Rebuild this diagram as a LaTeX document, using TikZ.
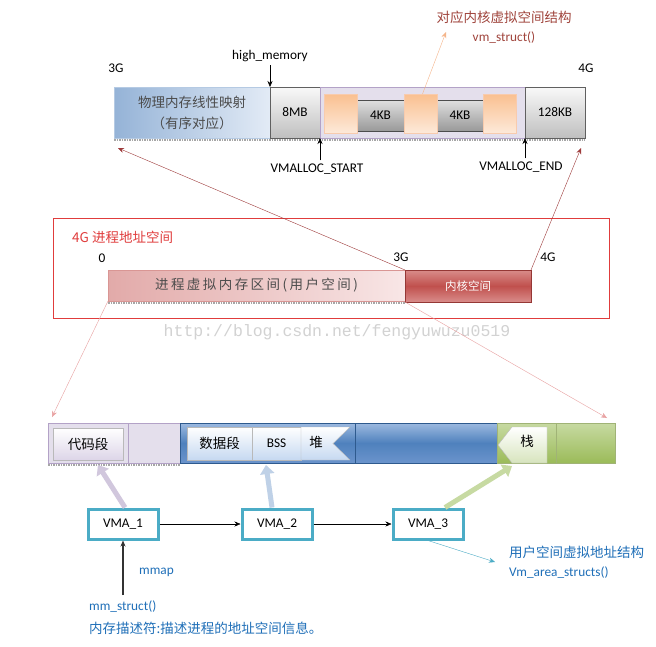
\documentclass[tikz,border=0pt]{standalone}
\usepackage{fontspec}
\setmainfont{Carlito}
\newfontfamily\cjk{Noto Sans CJK SC}
\newfontfamily\cjkwide{Noto Sans CJK SC}[LetterSpace=18]
\newfontfamily\webmono{Liberation Mono}
\usetikzlibrary{arrows.meta}
\definecolor{vmateal}{HTML}{4BACC6}
\definecolor{txtblue}{HTML}{1F6FB8}
\definecolor{brownred}{HTML}{A0443C}
\definecolor{framered}{HTML}{E03C3C}
\definecolor{darkred}{HTML}{9E3A3A}
\definecolor{pinkline}{HTML}{E8A0A0}
\definecolor{peachline}{HTML}{F5B58A}
\definecolor{peachdark}{HTML}{FAC090}
\definecolor{peachlite}{HTML}{FDE9D9}
\definecolor{physdark}{HTML}{95B3D7}
\definecolor{physlite}{HTML}{E3EBF6}
\definecolor{lilac}{HTML}{E4DFEC}
\definecolor{lilacline}{HTML}{B3A2C7}
\definecolor{userdark}{HTML}{E2AAA9}
\definecolor{userlite}{HTML}{F8E6E6}
\definecolor{userline}{HTML}{D99694}
\definecolor{kerntop}{HTML}{D98C8A}
\definecolor{kernmid}{HTML}{C0504D}
\definecolor{kernline}{HTML}{953735}
\definecolor{bartop}{HTML}{9DBAE0}
\definecolor{barmid}{HTML}{4F81BD}
\definecolor{barbot}{HTML}{6B94CC}
\definecolor{barline}{HTML}{2E5A8E}
\definecolor{greentop}{HTML}{C7DAA2}
\definecolor{greenbot}{HTML}{9BBB59}
\definecolor{greenline}{HTML}{77933C}
\definecolor{codebot}{HTML}{DDD5E8}
\definecolor{databot}{HTML}{C6D9F1}
\definecolor{stackbot}{HTML}{D7E4BD}
\tikzset{
  seg/.style={anchor=north west, inner sep=0pt, outer sep=0pt},
  lbl/.style={font=\fontsize{13.3}{16}\selectfont},
  cn/.style={font=\fontsize{13.5}{21}\selectfont\cjk},
  graybox/.style={seg, lbl, draw=gray!75!black, top color=gray!5, bottom color=gray!50},
  kbbox/.style={seg, lbl, draw=gray!60!black, top color=gray!25, bottom color=gray!80, minimum height=31},
  peach/.style={seg, draw=peachline!70, top color=peachdark, bottom color=peachlite, minimum width=33, minimum height=39},
  litebox/.style={seg, draw=gray!55, top color=white, bottom color=#1},
  bluebar/.style={seg, draw=barline, top color=bartop, bottom color=barbot, middle color=barmid, minimum height=40},
  greenbar/.style={seg, draw=greenline!70, top color=greentop, bottom color=greenbot, minimum width=59, minimum height=40},
  lilacbar/.style={seg, draw=lilacline, fill=lilac, minimum height=40},
  vma/.style={draw=vmateal, line width=3, fill=white, minimum width=70, minimum height=30, inner sep=0pt, lbl},
  bluetxt/.style={anchor=west, inner sep=0pt, text=txtblue},
  dots/.style={gray!70, densely dotted, line width=1.5},
  fat/.style={line width=5, draw=#1, -{Triangle[length=9pt,width=14pt]}},
  arr/.style={-{Stealth[length=6pt,width=5pt]}}
}
\begin{document}
\begin{tikzpicture}[x=1pt,y=-1pt]
\useasboundingbox[fill=white] (0,0) rectangle (656,646);

% kernel part, top bar
\node[seg, cn, align=center, text=black!70, draw=physdark!70, left color=physdark, right color=physlite, minimum width=156, minimum height=51] (phys) at (114,87) {物理内存线性映射\\（有序对应）};
\node[graybox, minimum width=50, minimum height=51] (mb8) at (270,87) {8MB};
\node[seg, draw=lilacline, fill=lilac, minimum width=205, minimum height=51] (vmarea) at (320,87) {};
\node[graybox, minimum width=60, minimum height=51] (kb128) at (525,87) {128KB};
\node[kbbox, minimum width=47] (kba) at (357,100) {4KB};
\node[kbbox, minimum width=46] (kbb) at (437,100) {4KB};
\node[peach] (pa) at (324,94) {};
\node[peach] (pb) at (404,94) {};
\node[peach] (pc) at (483,94) {};
\draw[dots] (114,140) -- (585,140);

\node[lbl] (g3top) at (116,68) {3G};
\node[lbl] (g4top) at (586,68) {4G};
\node[lbl] (himem) at (270,56) {high\_memory};
\node[lbl] (vstart) at (317,169) {VMALLOC\_START};
\node[lbl] (vend) at (521,167) {VMALLOC\_END};
\node[cn, text=brownred] (vmtitle) at (504,17) {对应内核虚拟空间结构};
\node[lbl, text=brownred] (vmstruct) at (504,38) {vm\_struct()};
\coordinate (vmtip) at (446,32);

\draw[arr] (himem.south) -- (mb8.north west);
\draw[arr] (vstart.north -| vmarea.south west) -- (vmarea.south west);
\draw[arr] (vend.north -| kb128.south west) -- (kb128.south west);
\draw[peachline, arr] ([xshift=2pt]pb.north) -- (vmtip);

% 4G process address space
\node[seg, draw=framered, minimum width=556, minimum height=100] (frame) at (53,218) {};
\node[anchor=west, inner sep=0pt, text=framered, font=\fontsize{13.5}{16}\selectfont\cjk] (frametitle) at (72,237) {4G 进程地址空间};
\node[lbl] (g0) at (102,258) {0};
\node[lbl] (g3mid) at (401,257) {3G};
\node[lbl] (g4mid) at (548,257) {4G};
\node[seg, draw=userline, left color=userdark, right color=userlite, minimum width=297, minimum height=31, text=black!70, font=\fontsize{13.5}{16}\selectfont\cjkwide] (user) at (108,270) {进程虚拟内存区间(用户空间)};
\node[seg, draw=kernline, top color=kerntop, bottom color=kerntop, middle color=kernmid, minimum width=126, minimum height=32, text=white, font=\fontsize{11.5}{14}\selectfont\cjk] (kernel) at (405,270) {内核空间};
\draw[dots] (108,303) -- (405,303);

\coordinate (physend) at (118,148);
\coordinate (bigend) at (581,148);
\draw[darkred, arr] (kernel.north west) -- (physend);
\draw[darkred, arr] (kernel.north east) -- (bigend);

\node[text=gray!35, font=\fontsize{16.5}{18}\selectfont\webmono] (watermark) at (337,332) {http://blog.csdn.net/fengyuwuzu0519};

% user space, bottom bar
\node[lilacbar, minimum width=80] (texta) at (48,423) {};
\node[lilacbar, minimum width=52] (textb) at (128,423) {};
\node[bluebar, minimum width=175] (dataa) at (180,423) {};
\node[bluebar, minimum width=142] (datab) at (355,423) {};
\node[greenbar] (stacka) at (497,423) {};
\node[greenbar] (stackb) at (556,423) {};
\draw[dots] (48,465) -- (180,465);

\node[litebox=codebot, cn, minimum width=70, minimum height=32] (code) at (53,428) {代码段};
\node[litebox=databot, cn, minimum width=65, minimum height=33] (data) at (187,427) {数据段};
\node[litebox=databot, lbl, minimum width=49, minimum height=33] (bss) at (252,427) {BSS};
\draw[gray!55, top color=white, bottom color=databot] (301,427) -- (350,427) -- (333,443.5) -- (350,460) -- (301,460) -- cycle;
\node[cn] (heap) at (316,442) {堆};
\draw[gray!55, top color=white, bottom color=stackbot] (512,427) -- (547,427) -- (547,463) -- (512,463) -- (498,445) -- cycle;
\node[cn] (stack) at (527,441) {栈};

\coordinate (codeend) at (52,417);
\coordinate (stackend) at (607,418);
\draw[pinkline, arr] (user.south west) -- (codeend);
\draw[pinkline, arr] (kernel.south west) -- (stackend);

% vma list
\node[vma] (vma1) at (123,524) {VMA\_1};
\node[vma] (vma2) at (277,524) {VMA\_2};
\node[vma] (vma3) at (428,524) {VMA\_3};
\draw[arr] (vma1) -- (vma2);
\draw[arr] (vma2) -- (vma3);

\coordinate (codetip) at (98,465);
\coordinate (bsstip) at (266,465);
\coordinate (stacktip) at (512,466);
\draw[fat=lilacline!60] ([xshift=2pt]vma1.north) -- (codetip);
\draw[fat=physdark!60] ([xshift=-5pt]vma2.north) -- (bsstip);
\draw[fat=greentop] ([xshift=17pt]vma3.north) -- (stacktip);

\coordinate (mmbase) at (123,595);
\draw[black!80, line width=1.2, arr] (mmbase) -- (vma1.south);
\node[bluetxt, lbl] (mmap) at (139,572) {mmap};
\node[bluetxt, lbl] (mmstruct) at (89,607) {mm\_struct()};
\node[bluetxt, cn] (mmdesc) at (89,628) {内存描述符:描述进程的地址空间信息。};

\coordinate (vmaend) at (495,562);
\draw[vmateal, arr] (vma3.south) -- (vmaend);
\node[bluetxt, cn] (vmadesc) at (509,552) {用户空间虚拟地址结构};
\node[bluetxt, lbl] (vmaname) at (509,573) {Vm\_area\_structs()};
\end{tikzpicture}
\end{document}
